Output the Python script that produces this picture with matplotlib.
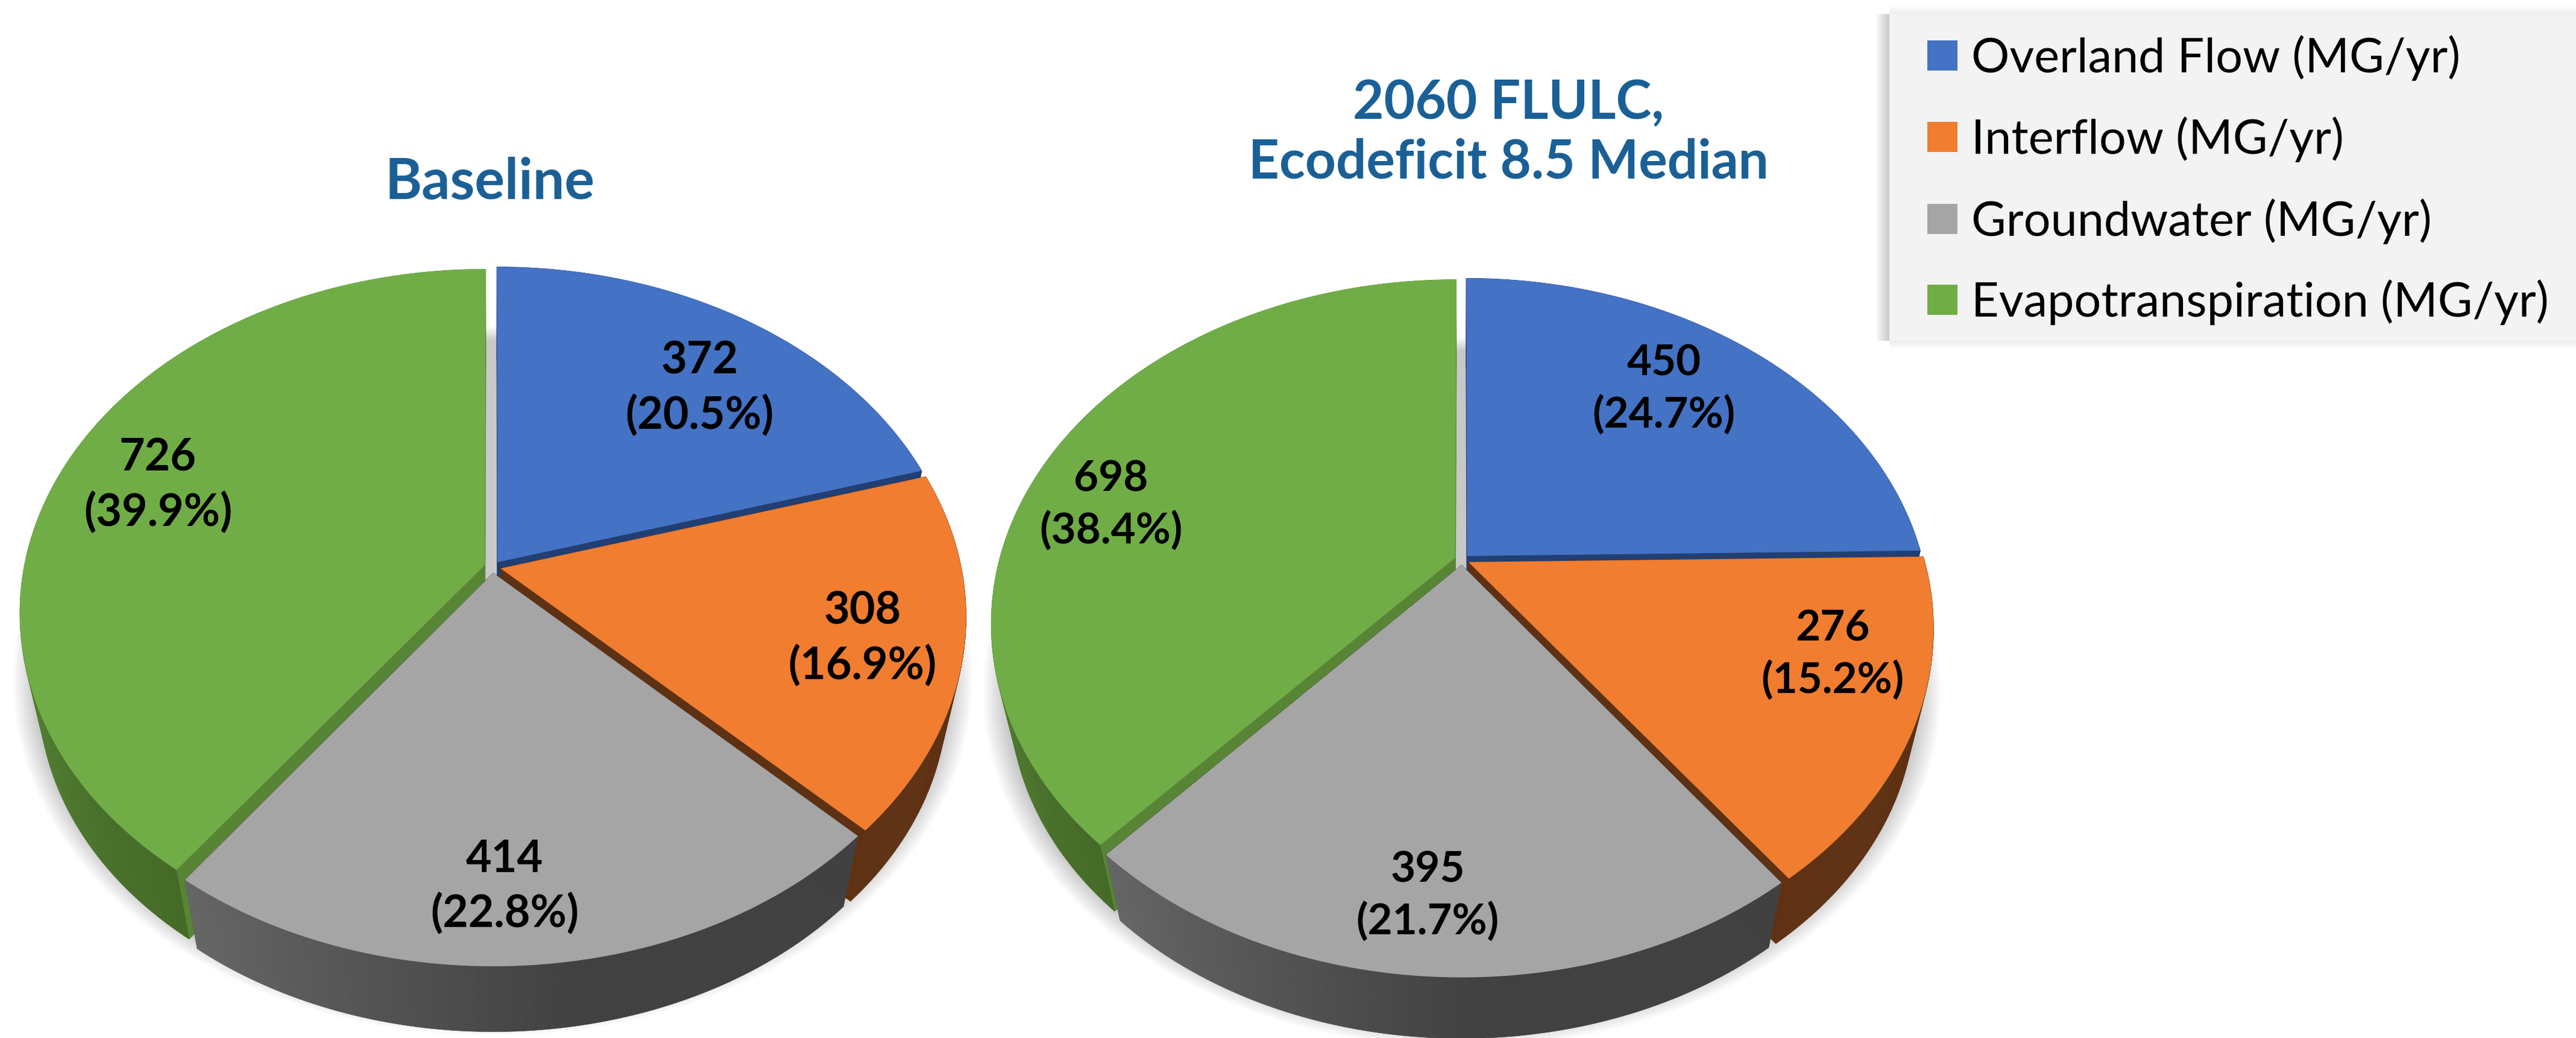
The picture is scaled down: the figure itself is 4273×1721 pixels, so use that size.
import numpy as np
import matplotlib
matplotlib.use('Agg')
import matplotlib.pyplot as plt
from matplotlib.collections import PolyCollection
from matplotlib.colors import to_rgb
from matplotlib.patches import Polygon, Rectangle

plt.rcParams['font.family'] = ['Lato', 'DejaVu Sans']

categories = ['Overland Flow (MG/yr)', 'Interflow (MG/yr)', 'Groundwater (MG/yr)', 'Evapotranspiration (MG/yr)']
baseline_values = [372, 308, 414, 726]
baseline_pct = ['20.5%', '16.9%', '22.8%', '39.9%']
future_values = [450, 276, 395, 698]
future_pct = ['24.7%', '15.2%', '21.7%', '38.4%']

top_colors = ['#4472c4', '#f07d30', '#a5a5a5', '#70ad47']
wall_colors = ['#223f73', '#5f3113', '#414141', '#588535']
rim_stops = [
    [(0, '#223f73'), (1, '#223f73')],
    [(0, '#5f3113'), (1, '#5f3113')],
    [(0, '#414141'), (0.45, '#414141'), (1, '#666666')],
    [(0, '#456a27'), (0.45, '#5a8d39'), (1, '#5a8d39')],
]
draw_order = [0, 3, 1, 2]
title_color = '#1a6096'


def blend(stops, t):
    ts = [s[0] for s in stops]
    rgb = np.array([to_rgb(s[1]) for s in stops])
    return [np.interp(t, ts, rgb[:, i]) for i in range(3)]


def project(p, X, Y):
    w = 1 + p['k'] * Y
    return p['cx'] + p['rx'] * X / w, p['cy'] - p['ry'] * Y / w


def drop(p, x, y):
    # bottom face of the disc, a bit smaller and shifted down
    s = 0.96
    return p['cx'] + (x - p['cx']) * s, p['cy'] + (y - p['cy']) * s + p['drop']


def draw_shadow(ax, p):
    theta = np.linspace(0, 2 * np.pi, 361)
    x, y = project(p, np.sin(theta), np.cos(theta))
    layers = 14
    for i in range(layers):
        f = i / (layers - 1)
        scale = 1.035 - 0.05 * f
        col = 1 - (1 - 0xc8 / 255) * f
        sx = p['cx'] + (x - p['cx']) * scale
        sy = p['cy'] + (y - p['cy']) * scale + p['shadow']
        ax.add_patch(Polygon(np.c_[sx, sy], fc=(col, col, col), ec='none', zorder=1))


def draw_pie(ax, p, values, pct, zorder=2):
    vals = np.array(values, dtype=float)
    edges = np.r_[0, np.cumsum(vals)] / vals.sum() * 2 * np.pi
    for i in draw_order:
        a0, a1 = edges[i], edges[i + 1]
        mid = (a0 + a1) / 2
        ox, oy = p['expl'] * np.sin(mid), p['expl'] * np.cos(mid)
        theta = np.linspace(a0, a1, 200)
        x, y = project(p, ox + np.sin(theta), oy + np.cos(theta))
        ax0, ay0 = project(p, ox, oy)
        bx, by = drop(p, x, y)
        bax, bay = drop(p, ax0, ay0)
        for xe, ye, bxe, bye in [(x[0], y[0], bx[0], by[0]), (x[-1], y[-1], bx[-1], by[-1])]:
            ax.add_patch(Polygon([(ax0, ay0), (xe, ye), (bxe, bye), (bax, bay)], fc=wall_colors[i],
                                 ec=wall_colors[i], lw=0.5, zorder=zorder))
        quads = [[(x[j], y[j]), (x[j + 1], y[j + 1]), (bx[j + 1], by[j + 1]), (bx[j], by[j])]
                 for j in range(len(x) - 1)]
        cols = [blend(rim_stops[i], j / (len(x) - 2)) for j in range(len(x) - 1)]
        ax.add_collection(PolyCollection(quads, facecolors=cols, edgecolors=cols, linewidths=0.5, zorder=zorder))
        ax.add_patch(Polygon(np.r_[[[ax0, ay0]], np.c_[x, y]], fc=top_colors[i], ec='none', zorder=zorder))
        zorder += 1
    for i in range(len(values)):
        lx, ly = p['labels'][i]
        ax.text(lx, ly, f'{values[i]}\n({pct[i]})', ha='center', va='center', fontsize=p['label_size'],
                fontweight='bold', color='black', linespacing=1.36, zorder=20)


fig = plt.figure(figsize=(42.73, 17.21), dpi=100)
ax = fig.add_axes([0, 0, 1, 1])
ax.set_xlim(0, 4273)
ax.set_ylim(1721, 0)
ax.axis('off')

left_pie = dict(cx=817, cy=940, rx=764, ry=559, k=0.138, drop=135, shadow=108, expl=0.018, label_size=53,
                labels=[(1161, 644), (1431, 1059), (837, 1470), (262, 805)])
right_pie = dict(cx=2425, cy=928, rx=756, ry=550, k=0.19, drop=129, shadow=108, expl=0.016, label_size=51,
                 labels=[(2760, 645), (3040, 1085), (2368, 1485), (1843, 837)])

draw_shadow(ax, left_pie)
draw_shadow(ax, right_pie)
draw_pie(ax, left_pie, baseline_values, baseline_pct)
draw_pie(ax, right_pie, future_values, future_pct)

ax.text(812, 330, 'Baseline', ha='center', va='baseline', fontsize=67, fontweight='bold', color=title_color)
ax.text(2502, 296, '2060 FLULC,\nEcodeficit 8.5 Median', ha='center', va='baseline', fontsize=64,
        fontweight='bold', color=title_color, linespacing=1.25)

# legend panel, soft shadow mostly on its left side
for i in range(6):
    g = 1 - 0.07 * (i + 1) / 6
    pad = 12 - i * 2
    ax.add_patch(Rectangle((3134, 23 - pad), 1139, 542 + 2 * pad, fc=(g, g, g), ec='none', zorder=30))
for i in range(8):
    g = 1 - 0.22 * (i + 1) / 8
    ax.add_patch(Rectangle((3112 + i * 3, 23), 24, 542, fc=(g, g, g), ec='none', zorder=30))
ax.add_patch(Rectangle((3134, 23), 1139, 542, fc='#f3f3f3', ec='none', zorder=31))
swatch_tops = [67, 202, 338, 472]
for name, col, top in zip(categories, top_colors, swatch_tops):
    ax.add_patch(Rectangle((3197, top), 50, 50, fc=col, ec='none', zorder=32))
    ax.text(3270, top + 29, name, ha='left', va='center', fontsize=57, color='black', zorder=32)

fig.savefig('out.png', dpi=100, facecolor='white')
